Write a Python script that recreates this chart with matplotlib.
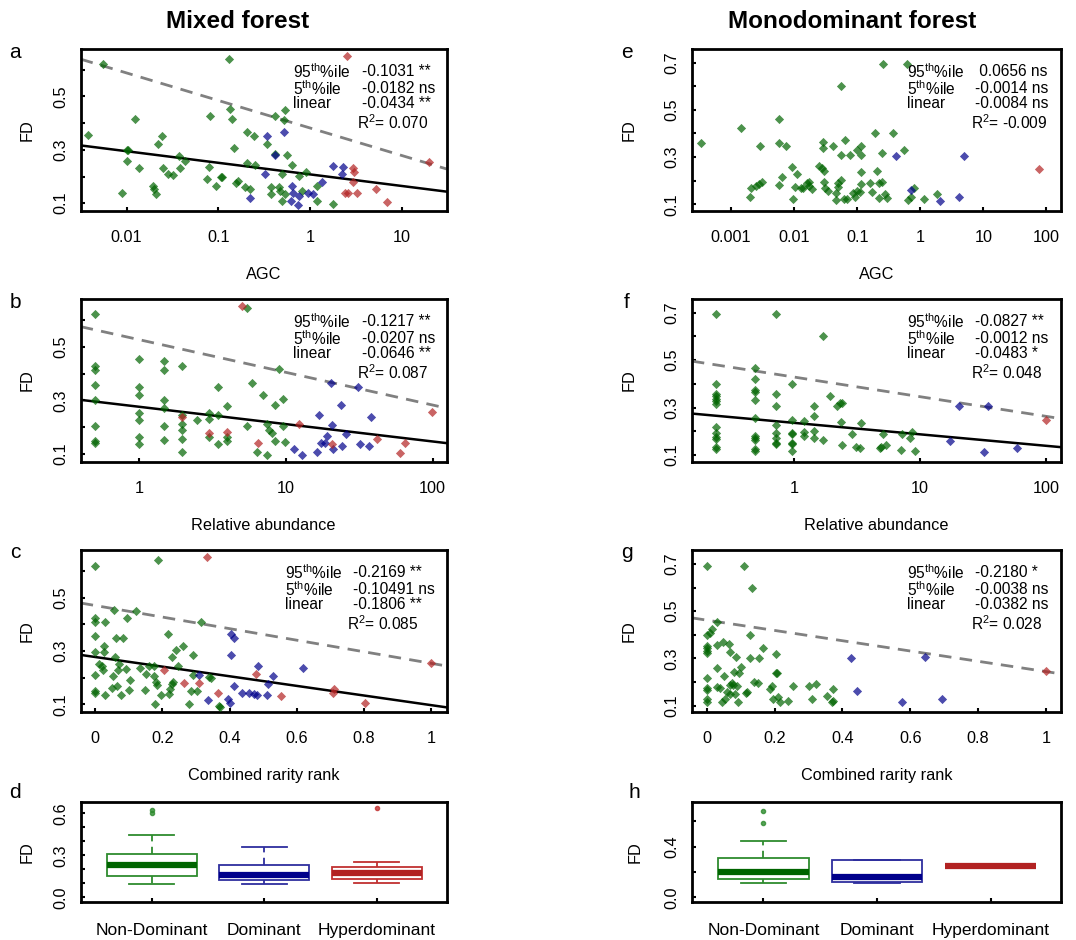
import numpy as np
import matplotlib.pyplot as plt

plt.rcParams['font.family'] = ['Liberation Sans', 'DejaVu Sans']
plt.rcParams['mathtext.fontset'] = 'custom'
plt.rcParams['mathtext.rm'] = 'Liberation Sans'
plt.rcParams['mathtext.it'] = 'Liberation Sans:italic'
plt.rcParams['mathtext.default'] = 'regular'

# ---- data: (x, FD) per dominance class ----
# mixed forest, AGC
a_nondom = [(0.0038, 0.355), (0.0055, 0.622), (0.0089, 0.14), (0.0100, 0.30), (0.0105, 0.30), (0.0101, 0.257),
            (0.0123, 0.416), (0.0138, 0.232), (0.0195, 0.165), (0.020, 0.153), (0.021, 0.134), (0.022, 0.32),
            (0.0245, 0.351), (0.025, 0.232), (0.028, 0.21), (0.032, 0.207), (0.037, 0.275), (0.038, 0.232),
            (0.043, 0.257), (0.076, 0.19), (0.080, 0.235), (0.081, 0.425), (0.094, 0.165), (0.106, 0.198),
            (0.110, 0.198), (0.130, 0.64), (0.134, 0.453), (0.141, 0.416), (0.150, 0.306), (0.156, 0.175),
            (0.166, 0.183), (0.195, 0.161), (0.204, 0.367), (0.207, 0.25), (0.220, 0.155), (0.245, 0.351),
            (0.250, 0.242), (0.337, 0.32), (0.375, 0.159), (0.373, 0.134), (0.415, 0.428), (0.418, 0.285),
            (0.463, 0.159), (0.470, 0.146), (0.490, 0.208), (0.500, 0.11), (0.530, 0.449), (0.520, 0.413),
            (0.530, 0.134), (0.556, 0.281), (0.640, 0.242), (0.765, 0.202), (0.810, 0.144), (0.900, 0.216),
            (1.18, 0.165), (1.20, 0.107), (1.77, 0.098)]
a_dom = [(0.337, 0.351), (0.52, 0.367), (0.415, 0.281), (0.323, 0.21), (0.22, 0.121), (0.64, 0.165), (0.66, 0.14),
         (0.615, 0.11), (0.733, 0.095), (0.765, 0.128), (0.96, 0.14), (1.09, 0.134), (1.34, 0.18), (1.8, 0.241),
         (2.31, 0.236), (2.22, 0.208)]
a_hyper = [(2.51, 0.653), (20.0, 0.254), (2.97, 0.232), (3.05, 0.216), (2.97, 0.18), (2.41, 0.14), (2.62, 0.14),
           (3.23, 0.137), (5.3, 0.155), (6.86, 0.106)]

# mixed forest, relative abundance
b_nondom = [(0.5, 0.62), (0.5, 0.428), (0.5, 0.413), (0.5, 0.356), (0.5, 0.303), (0.5, 0.206), (0.5, 0.148),
            (0.5, 0.14), (1, 0.453), (1, 0.35), (1, 0.319), (1, 0.254), (1, 0.228), (1, 0.163), (1, 0.138),
            (1.47, 0.448), (1.47, 0.413), (1.47, 0.30), (1.47, 0.273), (1.47, 0.203), (1.47, 0.153),
            (1.96, 0.428), (1.96, 0.246), (1.96, 0.213), (1.96, 0.191), (1.96, 0.156), (1.96, 0.106),
            (2.46, 0.228), (2.98, 0.254), (2.98, 0.231), (2.98, 0.163), (3.46, 0.35), (3.46, 0.244),
            (3.46, 0.138), (3.98, 0.279), (3.98, 0.15), (3.98, 0.163), (5.42, 0.644), (5.4, 0.203), (5.9, 0.365),
            (6.3, 0.106), (7.0, 0.321), (7.4, 0.213), (7.4, 0.098), (7.6, 0.188), (8.0, 0.179), (8.4, 0.284),
            (8.4, 0.15), (9.0, 0.416), (9.5, 0.306), (9.6, 0.203), (9.85, 0.146)]
b_dom = [(11.3, 0.119), (12.9, 0.096), (16.4, 0.106), (16.9, 0.244), (17.4, 0.141), (18.5, 0.141), (18.9, 0.169),
         (20.3, 0.365), (20.5, 0.209), (20.8, 0.119), (23.6, 0.284), (24.0, 0.131), (25.7, 0.175), (31.1, 0.348),
         (32.0, 0.138), (36.8, 0.131), (38.0, 0.238)]
b_hyper = [(5.04, 0.653), (1.96, 0.238), (2.98, 0.179), (3.98, 0.181), (6.4, 0.141), (12.3, 0.213), (20.5, 0.138),
           (41.5, 0.156), (60.0, 0.104), (64.8, 0.141), (98.5, 0.256)]

# mixed forest, combined rarity rank
c_nondom = [(0, 0.619), (0, 0.425), (0, 0.409), (0, 0.355), (0, 0.296), (0, 0.209), (0, 0.149), (0, 0.143),
            (0.012, 0.253), (0.02, 0.246), (0.022, 0.228), (0.025, 0.321), (0.027, 0.296), (0.028, 0.134),
            (0.03, 0.411), (0.05, 0.161), (0.052, 0.206), (0.057, 0.453), (0.059, 0.278), (0.062, 0.349),
            (0.064, 0.171), (0.067, 0.228), (0.072, 0.253), (0.077, 0.136), (0.082, 0.349), (0.092, 0.234),
            (0.096, 0.425), (0.102, 0.153), (0.104, 0.19), (0.121, 0.449), (0.132, 0.236), (0.149, 0.156),
            (0.15, 0.215), (0.16, 0.243), (0.176, 0.243), (0.176, 0.205), (0.178, 0.103), (0.18, 0.184),
            (0.183, 0.174), (0.188, 0.64), (0.196, 0.136), (0.218, 0.365), (0.22, 0.14), (0.223, 0.159),
            (0.228, 0.178), (0.228, 0.278), (0.231, 0.184), (0.241, 0.305), (0.246, 0.246), (0.262, 0.318),
            (0.279, 0.103), (0.285, 0.149), (0.29, 0.284), (0.292, 0.211), (0.302, 0.149), (0.315, 0.411),
            (0.339, 0.203), (0.344, 0.199), (0.368, 0.096), (0.371, 0.09)]
c_dom = [(0.31, 0.209), (0.337, 0.118), (0.394, 0.121), (0.401, 0.105), (0.403, 0.365), (0.414, 0.35),
         (0.404, 0.284), (0.414, 0.168), (0.438, 0.143), (0.458, 0.143), (0.472, 0.14), (0.48, 0.134),
         (0.483, 0.243), (0.51, 0.134), (0.515, 0.178), (0.528, 0.206), (0.617, 0.238)]
c_hyper = [(0.332, 0.653), (0.206, 0.23), (0.264, 0.18), (0.309, 0.18), (0.366, 0.143), (0.477, 0.213),
           (0.554, 0.13), (0.706, 0.143), (0.711, 0.159), (0.802, 0.105), (1.0, 0.256)]

# monodominant forest, AGC
e_nondom = [(0.00034, 0.358), (0.00144, 0.424), (0.0020, 0.13), (0.0021, 0.168), (0.0025, 0.177), (0.0028, 0.186),
            (0.0031, 0.194), (0.0029, 0.346), (0.0058, 0.463), (0.0058, 0.36), (0.0058, 0.182), (0.0065, 0.214),
            (0.0074, 0.348), (0.0093, 0.256), (0.0097, 0.123), (0.0104, 0.175), (0.0113, 0.228), (0.0127, 0.17),
            (0.014, 0.17), (0.0159, 0.189), (0.017, 0.179), (0.019, 0.165), (0.0175, 0.196), (0.0247, 0.262),
            (0.028, 0.252), (0.029, 0.362), (0.0285, 0.339), (0.030, 0.241), (0.030, 0.193), (0.031, 0.168),
            (0.034, 0.158), (0.042, 0.346), (0.046, 0.146), (0.047, 0.118), (0.049, 0.189), (0.050, 0.175),
            (0.055, 0.308), (0.056, 0.203), (0.056, 0.601), (0.062, 0.121), (0.064, 0.372), (0.068, 0.121),
            (0.077, 0.308), (0.087, 0.146), (0.093, 0.132), (0.100, 0.158), (0.100, 0.332), (0.110, 0.154),
            (0.114, 0.346), (0.117, 0.308), (0.117, 0.238), (0.117, 0.185), (0.160, 0.189), (0.171, 0.151),
            (0.190, 0.40), (0.210, 0.241), (0.220, 0.189), (0.220, 0.125), (0.246, 0.196), (0.250, 0.318),
            (0.260, 0.693), (0.280, 0.142), (0.300, 0.125), (0.370, 0.40), (0.560, 0.33), (0.610, 0.693),
            (0.650, 0.118), (0.710, 0.132), (0.80, 0.17), (1.13, 0.123), (1.84, 0.144)]
e_dom = [(0.41, 0.306), (0.72, 0.161), (2.08, 0.115), (4.06, 0.13), (4.87, 0.306)]
e_hyper = [(77.4, 0.249)]

# monodominant forest, relative abundance
f_nondom = [(0.24, 0.694), (0.24, 0.40), (0.24, 0.357), (0.24, 0.347), (0.24, 0.337), (0.24, 0.326), (0.24, 0.315),
            (0.24, 0.217), (0.24, 0.192), (0.24, 0.178), (0.24, 0.168), (0.24, 0.135), (0.24, 0.125),
            (0.49, 0.465), (0.49, 0.421), (0.49, 0.376), (0.49, 0.364), (0.49, 0.333), (0.49, 0.255),
            (0.49, 0.182), (0.49, 0.173), (0.49, 0.164), (0.49, 0.125), (0.49, 0.117),
            (0.72, 0.694), (0.72, 0.359), (0.72, 0.308), (0.72, 0.227), (0.72, 0.195), (0.72, 0.173),
            (0.72, 0.152), (0.72, 0.145), (0.97, 0.40), (0.97, 0.248), (0.97, 0.195), (0.97, 0.188),
            (0.97, 0.152), (0.97, 0.145), (0.97, 0.117), (1.2, 0.244), (1.2, 0.199), (1.2, 0.182),
            (1.44, 0.305), (1.44, 0.263), (1.44, 0.202), (1.44, 0.171), (1.69, 0.602), (1.69, 0.164),
            (1.93, 0.35), (2.18, 0.308), (2.31, 0.319), (2.4, 0.319), (2.38, 0.239), (2.4, 0.142), (2.9, 0.189),
            (3.13, 0.133), (3.37, 0.128), (3.4, 0.237), (4.8, 0.128), (4.95, 0.133), (5.1, 0.189), (5.4, 0.142),
            (7.1, 0.121), (7.2, 0.189), (8.4, 0.173), (8.7, 0.199), (9.2, 0.117)]
f_dom = [(17.2, 0.161), (20.6, 0.305), (32.5, 0.114), (34.5, 0.305), (59.0, 0.128)]
f_hyper = [(100.0, 0.248)]

# monodominant forest, combined rarity rank
g_nondom = [(0, 0.692), (0, 0.399), (0, 0.352), (0, 0.342), (0, 0.331), (0, 0.324), (0, 0.218), (0, 0.176),
            (0, 0.166), (0, 0.127), (0, 0.117), (0.008, 0.408), (0.015, 0.423), (0.029, 0.455), (0.029, 0.356),
            (0.031, 0.258), (0.031, 0.18), (0.039, 0.173), (0.044, 0.117), (0.047, 0.37), (0.052, 0.225),
            (0.054, 0.127), (0.059, 0.159), (0.064, 0.363), (0.067, 0.149), (0.069, 0.328), (0.069, 0.187),
            (0.074, 0.194), (0.078, 0.187), (0.081, 0.244), (0.083, 0.149), (0.086, 0.307), (0.088, 0.185),
            (0.093, 0.114), (0.096, 0.239), (0.1, 0.262), (0.11, 0.692), (0.116, 0.152), (0.12, 0.159),
            (0.127, 0.399), (0.127, 0.3), (0.132, 0.6), (0.14, 0.199), (0.152, 0.194), (0.154, 0.3),
            (0.165, 0.345), (0.186, 0.169), (0.193, 0.185), (0.196, 0.127), (0.203, 0.317), (0.204, 0.239),
            (0.208, 0.239), (0.209, 0.138), (0.216, 0.114), (0.24, 0.121), (0.255, 0.185), (0.302, 0.185),
            (0.309, 0.127), (0.322, 0.19), (0.355, 0.142), (0.368, 0.117), (0.371, 0.169), (0.373, 0.121)]
g_dom = [(0.426, 0.3), (0.443, 0.162), (0.576, 0.114), (0.642, 0.304), (0.693, 0.127)]
g_hyper = [(1.0, 0.248)]

# slopes printed on the panels; (intercept, slope) of fitted lines, None where not significant
a_stats = ['-0.1031 **', '-0.0182 ns', '-0.0434 **', '0.070']
b_stats = ['-0.1217 **', '-0.0207 ns', '-0.0646 **', '0.087']
c_stats = ['-0.2169 **', '-0.10491 ns', '-0.1806 **', '0.085']
e_stats = [' 0.0656 ns', '-0.0014 ns', '-0.0084 ns', '-0.009']
f_stats = ['-0.0827 **', '-0.0012 ns', '-0.0483 *', '0.048']
g_stats = ['-0.2180 *', '-0.0038 ns', '-0.0382 ns', '0.028']

a_q95, a_lin = (0.382, -0.1031), (0.208, -0.0434)
b_q95, b_lin = (0.526, -0.1217), (0.276, -0.0646)
c_q95, c_lin = (0.471, -0.2169), (0.278, -0.1806)
e_q95, e_lin = None, None
f_q95, f_lin = (0.429, -0.0827), (0.236, -0.0483)
g_q95, g_lin = (0.462, -0.2180), None

# boxplot summaries: whislo, q1, med, q3, whishi, outliers
classes = ['Non-Dominant', 'Dominant', 'Hyperdominant']
d_box = [(0.095, 0.152, 0.229, 0.310, 0.445, [0.624, 0.605]),
         (0.095, 0.124, 0.160, 0.231, 0.357, []),
         (0.105, 0.131, 0.176, 0.219, 0.255, [0.640])]
h_box = [(0.116, 0.145, 0.197, 0.308, 0.447, [0.684, 0.589]),
         (0.116, 0.124, 0.163, 0.295, 0.295, []),
         (0.247, 0.247, 0.247, 0.247, 0.247, [])]

colors = ['#006400', '#00008B', '#B22222']
box_edge = ['#2E8B2E', '#2E2E9E', '#C03030']
FS = 11.7


def style(ax):
    for s in ax.spines.values():
        s.set_linewidth(2)
    ax.tick_params(direction='in', length=3, width=1.5, labelsize=FS)
    ax.tick_params(axis='x', pad=14)
    ax.tick_params(axis='y', pad=9, labelrotation=90)


def scatter_panel(ax, groups, logx, xlim, ylim, ymax_tick, xticks, xticklabels, xlabel,
                  stats, q95, lin, tx, fdx):
    for pts, col in zip(groups, colors):
        pts = np.array(pts)
        ax.scatter(pts[:, 0], pts[:, 1], marker='D', s=22, c=col, alpha=0.7, linewidths=0, zorder=3)
    if logx:
        ax.set_xscale('log')
    ax.set_xlim(xlim)
    ax.set_ylim(ylim)
    xs = np.linspace(xlim[0], xlim[1], 50)
    xv = np.log10(xs) if logx else xs
    if q95 is not None:
        ax.plot(xs, q95[0] + q95[1] * xv, color='#808080', lw=2, dashes=(4.5, 3), zorder=2)
    if lin is not None:
        ax.plot(xs, lin[0] + lin[1] * xv, color='black', lw=1.8, zorder=2)
    ax.set_xticks(xticks)
    ax.set_xticklabels(xticklabels)
    ax.minorticks_off()
    yt = np.round(np.arange(0.1, ymax_tick + 0.001, 0.1), 1)
    ax.set_yticks(yt)
    ax.set_yticklabels([f'{v:.1f}' if i % 2 == 0 else '' for i, v in enumerate(yt)], va='center')
    style(ax)
    ax.text(0.5, -0.395, xlabel, transform=ax.transAxes, ha='center', va='center', fontsize=FS)
    ax.text(fdx, 0.5, 'FD', transform=ax.transAxes, rotation=90, ha='center', va='center', fontsize=FS)
    lab_x, val_x, r2_x = tx
    labels = [r'95$^{th}$%ile', r'5$^{th}$%ile', 'linear']
    for i, yy in enumerate([0.862, 0.757, 0.662]):
        ax.text(lab_x, yy, labels[i], transform=ax.transAxes, ha='left', va='center', fontsize=11.2)
        ax.text(val_x, yy, stats[i], transform=ax.transAxes, ha='left', va='center', fontsize=11.2)
    ax.text(r2_x, 0.545, r'R$^{2}$= ' + stats[3], transform=ax.transAxes, ha='left', va='center', fontsize=11.2)


def box_panel(ax, boxes, ylim, yticks, ylabels, fdx):
    bstats = []
    for (lo, q1, med, q3, hi, fl), name in zip(boxes, classes):
        bstats.append(dict(whislo=lo, q1=q1, med=med, q3=q3, whishi=hi, fliers=fl, label=name))
    parts = ax.bxp(bstats, positions=[1, 2, 3], widths=0.8, capwidths=0.4, patch_artist=True)
    for i in range(3):
        parts['boxes'][i].set(facecolor='white', edgecolor=box_edge[i], linewidth=1.3)
        parts['medians'][i].set(color=colors[i], linewidth=4.5, solid_capstyle='butt')
        for w in parts['whiskers'][2 * i:2 * i + 2]:
            w.set(color=box_edge[i], linewidth=1.3, dashes=(4, 3))
        for c in parts['caps'][2 * i:2 * i + 2]:
            c.set(color=box_edge[i], linewidth=1.3)
        parts['fliers'][i].set(marker='o', markersize=3, markerfacecolor=box_edge[i],
                               markeredgecolor=box_edge[i], alpha=0.8)
    ax.set_xlim(0.37, 3.62)
    ax.set_ylim(ylim)
    ax.set_yticks(yticks)
    ax.set_yticklabels(ylabels, va='center')
    style(ax)
    ax.tick_params(axis='x', pad=15, labelsize=12.5)
    ax.text(fdx, 0.5, 'FD', transform=ax.transAxes, rotation=90, ha='center', va='center', fontsize=FS)


fig = plt.figure(figsize=(10.76, 9.4), dpi=100)
L, LW = 0.075, 0.340
R, RW = 0.643, 0.343
rows = [(0.7759, 0.172), (0.509, 0.173), (0.2426, 0.172)]

ax_a = fig.add_axes([L, rows[0][0], LW, rows[0][1]])
scatter_panel(ax_a, [a_nondom, a_dom, a_hyper], True, (10 ** -2.5, 10 ** 1.49), (0.072, 0.678), 0.6,
              [0.01, 0.1, 1, 10], ['0.01', '0.1', '1', '10'], 'AGC', a_stats, a_q95, a_lin,
              (0.58, 0.77, 0.754), -0.147)
ax_b = fig.add_axes([L, rows[1][0], LW, rows[1][1]])
scatter_panel(ax_b, [b_nondom, b_dom, b_hyper], True, (10 ** -0.4, 10 ** 2.095), (0.072, 0.678), 0.6,
              [1, 10, 100], ['1', '10', '100'], 'Relative abundance', b_stats, b_q95, b_lin,
              (0.58, 0.77, 0.754), -0.147)
ax_c = fig.add_axes([L, rows[2][0], LW, rows[2][1]])
scatter_panel(ax_c, [c_nondom, c_dom, c_hyper], False, (-0.043, 1.045), (0.072, 0.678), 0.6,
              [0, 0.2, 0.4, 0.6, 0.8, 1], ['0', '0.2', '0.4', '0.6', '0.8', '1'], 'Combined rarity rank',
              c_stats, c_q95, c_lin, (0.558, 0.744, 0.728), -0.147)

ax_e = fig.add_axes([R, rows[0][0], RW, rows[0][1]])
scatter_panel(ax_e, [e_nondom, e_dom, e_hyper], True, (10 ** -3.62, 10 ** 2.23), (0.073, 0.758), 0.7,
              [0.001, 0.01, 0.1, 1, 10, 100], ['0.001', '0.01', '0.1', '1', '10', '100'], 'AGC',
              e_stats, e_q95, e_lin, (0.583, 0.768, 0.755), -0.17)
ax_f = fig.add_axes([R, rows[1][0], RW, rows[1][1]])
scatter_panel(ax_f, [f_nondom, f_dom, f_hyper], True, (10 ** -0.81, 10 ** 2.12), (0.073, 0.758), 0.7,
              [1, 10, 100], ['1', '10', '100'], 'Relative abundance', f_stats, f_q95, f_lin,
              (0.583, 0.768, 0.755), -0.17)
ax_g = fig.add_axes([R, rows[2][0], RW, rows[2][1]])
scatter_panel(ax_g, [g_nondom, g_dom, g_hyper], False, (-0.044, 1.044), (0.073, 0.758), 0.7,
              [0, 0.2, 0.4, 0.6, 0.8, 1], ['0', '0.2', '0.4', '0.6', '0.8', '1'], 'Combined rarity rank',
              g_stats, g_q95, g_lin, (0.583, 0.768, 0.755), -0.17)

ax_d = fig.add_axes([L, 0.0407, LW, 0.1064])
box_panel(ax_d, d_box, (-0.031, 0.683), [0, 0.1, 0.2, 0.3, 0.4, 0.5, 0.6],
          ['0.0', '', '', '0.3', '', '', '0.6'], -0.147)
ax_h = fig.add_axes([R, 0.0407, RW, 0.1064])
box_panel(ax_h, h_box, (-0.034, 0.755), [0, 0.2, 0.4, 0.6], ['0.0', '', '0.4', ''], -0.154)

fig.text(238 / 1076, 1 - 22 / 940, 'Mixed forest', ha='center', va='center', fontsize=17.5, fontweight='bold')
fig.text(852 / 1076, 1 - 22 / 940, 'Monodominant forest', ha='center', va='center', fontsize=17.5,
         fontweight='bold')

letters = [('a', 15, 52), ('b', 15, 302), ('c', 15, 552), ('d', 15, 792),
           ('e', 627, 52), ('f', 627, 302), ('g', 627, 552), ('h', 634, 792)]
for t, px, py in letters:
    fig.text(px / 1076, 1 - py / 940, t, ha='center', va='center', fontsize=15)

fig.savefig('out.png', dpi=100, facecolor='white')
